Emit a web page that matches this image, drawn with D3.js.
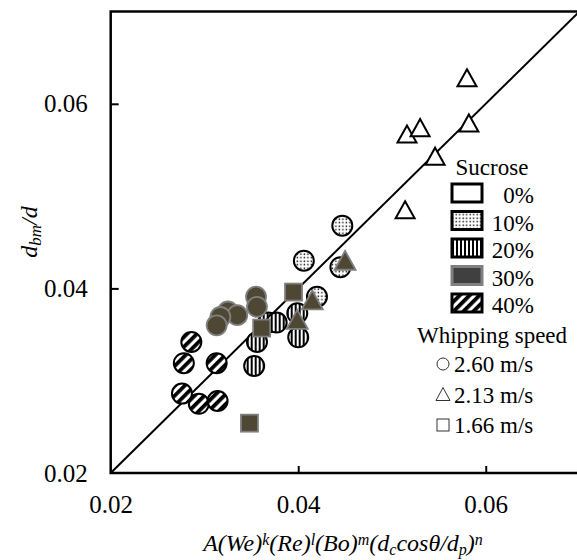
<!DOCTYPE html>
<html>
<head>
<meta charset="utf-8">
<script src="https://cdn.jsdelivr.net/npm/d3@7"></script>
<style>
  body { margin: 0; background: #fff; }
  .axis-line { stroke: #000; stroke-width: 2.5; fill: none; }
</style>
</head>
<body>
<div id="chart"></div>
<script>
/* global d3 */
'use strict';

var FONT = 'Liberation Serif';

// axis ticks
var xTicks = [0.02, 0.04, 0.06];
var yTicks = [0.02, 0.04, 0.06];

// legend entries
var sucroseLevels = ['0%', '10%', '20%', '30%', '40%'];
var speedLabels = ['2.60 m/s', '2.13 m/s', '1.66 m/s'];

// [x, y] pairs, one array per sucrose level / whipping speed
var s0Tri = [[0.0580, 0.0626], [0.0582, 0.0577], [0.0546, 0.0541], [0.0516, 0.0565], [0.0530, 0.0572], [0.0514, 0.0483]];
var s40Circ = [[0.0286, 0.0342], [0.0278, 0.0319], [0.0313, 0.0319], [0.0276, 0.0286], [0.0294, 0.0275], [0.0314, 0.0278]];
var s20Circ = [[0.0368, 0.0363], [0.0377, 0.0363], [0.0399, 0.0373], [0.0356, 0.0342], [0.0400, 0.0347], [0.0353, 0.0316]];
var s10Circ = [[0.0406, 0.0430], [0.0445, 0.0423], [0.0420, 0.0391], [0.0447, 0.0468]];
var s30Circ = [[0.0355, 0.0391], [0.0356, 0.0380], [0.0325, 0.0375], [0.0335, 0.0371], [0.0317, 0.0369], [0.0313, 0.0360]];
var s30Tri = [[0.0415, 0.0385], [0.0399, 0.0364], [0.0450, 0.0428]];
var s30Sq = [[0.0395, 0.0396], [0.0361, 0.0357], [0.0348, 0.0254]];

var series = [
  { level: '0%', shape: 'tri', pts: s0Tri },
  { level: '40%', shape: 'circ', pts: s40Circ },
  { level: '20%', shape: 'circ', pts: s20Circ },
  { level: '10%', shape: 'circ', pts: s10Circ },
  { level: '30%', shape: 'circ', pts: s30Circ },
  { level: '30%', shape: 'tri', pts: s30Tri },
  { level: '30%', shape: 'sq', pts: s30Sq }
];

var W = 577, H = 560;
var margin = { top: 11.5, left: 110.7, right: -2.5, bottom: 87 };
var width = W - margin.left - margin.right;
var height = H - margin.top - margin.bottom;

var x = d3.scaleLinear().domain([0.02, 0.07]).range([0, width]);
var y = d3.scaleLinear().domain([0.02, 0.07]).range([height, 0]);

var svg = d3.select('#chart').append('svg')
    .attr('width', W)
    .attr('height', H);

var defs = svg.append('defs');

// 10%: fine dots
var pDots = defs.append('pattern').attr('id', 'p10')
    .attr('patternUnits', 'userSpaceOnUse').attr('width', 3.5).attr('height', 3.5);
pDots.append('rect').attr('width', 3.5).attr('height', 3.5).attr('fill', '#fff');
pDots.append('rect').attr('x', 0.5).attr('y', 0.5).attr('width', 1.4).attr('height', 1.4).attr('fill', '#000');

// 20%: vertical stripes
var pV = defs.append('pattern').attr('id', 'p20')
    .attr('patternUnits', 'userSpaceOnUse').attr('width', 4).attr('height', 4);
pV.append('rect').attr('width', 4).attr('height', 4).attr('fill', '#fff');
pV.append('rect').attr('width', 2).attr('height', 4).attr('fill', '#000');

// 40%: wide diagonal stripes
var pD = defs.append('pattern').attr('id', 'p40')
    .attr('patternUnits', 'userSpaceOnUse').attr('width', 7).attr('height', 7)
    .attr('patternTransform', 'rotate(45)');
pD.append('rect').attr('width', 7).attr('height', 7).attr('fill', '#fff');
pD.append('rect').attr('width', 3.8).attr('height', 7).attr('fill', '#000');

var style = {
  '0%':  { fill: '#fff', stroke: '#000' },
  '10%': { fill: 'url(#p10)', stroke: '#000' },
  '20%': { fill: 'url(#p20)', stroke: '#000' },
  '30%': { fill: '#4d4733', stroke: '#7f7f7f' },
  '40%': { fill: 'url(#p40)', stroke: '#000' }
};

var g = svg.append('g')
    .attr('transform', 'translate(' + margin.left + ',' + margin.top + ')');

// frame
g.append('rect').attr('class', 'axis-line')
    .attr('width', width).attr('height', height);

// 1:1 line
g.append('line')
    .attr('x1', x(0.02)).attr('y1', y(0.02))
    .attr('x2', x(0.07)).attr('y2', y(0.07))
    .attr('stroke', '#000').attr('stroke-width', 2);

// axes
var xAxis = d3.axisBottom(x).tickValues(xTicks).tickSize(-7).tickPadding(17)
    .tickFormat(d3.format('.2f'));
var yAxis = d3.axisLeft(y).tickValues(yTicks).tickSize(-8).tickPadding(23)
    .tickFormat(d3.format('.2f'));

var gx = g.append('g').attr('transform', 'translate(0,' + height + ')').call(xAxis);
var gy = g.append('g').call(yAxis);
[gx, gy].forEach(function (ax) {
  ax.attr('font-family', null);
  ax.select('.domain').remove();
  ax.selectAll('line').attr('stroke', '#000').attr('stroke-width', 2);
  ax.selectAll('text').attr('font-size', 25).attr('fill', '#000');
});
gx.selectAll('.tick').filter(function (d) { return d === 0.02; }).select('line').remove();
gy.selectAll('.tick').filter(function (d) { return d === 0.02; }).select('line').remove();
gx.selectAll('text').attr('dy', '0.9em');

// markers
var triPath = function (s) {
  var h = s * 0.9;
  return 'M0,' + (-h * 0.62) + 'L' + (s / 2) + ',' + (h * 0.38) + 'L' + (-s / 2) + ',' + (h * 0.38) + 'Z';
};

series.forEach(function (ser) {
  var st = style[ser.level];
  var grp = g.append('g');
  ser.pts.forEach(function (p) {
    var cx = x(p[0]), cy = y(p[1]);
    var m;
    if (ser.shape === 'circ') {
      m = grp.append('circle').attr('cx', cx).attr('cy', cy).attr('r', 10);
    } else if (ser.shape === 'tri') {
      m = grp.append('path').attr('d', triPath(ser.level === '30%' ? 21 : 19))
          .attr('transform', 'translate(' + cx + ',' + cy + ')')
          .attr('stroke-linejoin', 'miter');
    } else {
      m = grp.append('rect').attr('x', cx - 8.5).attr('y', cy - 8.5)
          .attr('width', 17).attr('height', 17);
    }
    m.attr('fill', st.fill).attr('stroke', st.stroke)
        .attr('stroke-width', ser.level === '30%' ? 1.8 : 2);
  });
});

// legend: sucrose
var lg = svg.append('g');
lg.append('text').attr('x', 492).attr('y', 175)
    .attr('text-anchor', 'middle').attr('font-size', 23).text('Sucrose');

sucroseLevels.forEach(function (lv, i) {
  var yy = 184 + i * 27.5;
  var st = style[lv];
  lg.append('rect')
      .attr('x', 452).attr('y', yy).attr('width', 30).attr('height', 18)
      .attr('fill', lv === '30%' ? '#404040' : st.fill)
      .attr('stroke', lv === '30%' ? '#808080' : '#000')
      .attr('stroke-width', 3);
  lg.append('text').attr('x', 534).attr('y', yy + 19)
      .attr('text-anchor', 'end').attr('font-size', 23).text(lv);
});

// legend: whipping speed
lg.append('text').attr('x', 492).attr('y', 343)
    .attr('text-anchor', 'middle').attr('font-size', 23).text('Whipping speed');

speedLabels.forEach(function (lb, i) {
  var by = 372 + i * 30.5;
  var cy = by - 8;
  var sym;
  if (i === 0) {
    sym = lg.append('circle').attr('cx', 443).attr('cy', cy).attr('r', 6);
  } else if (i === 1) {
    sym = lg.append('path').attr('d', 'M443,' + (cy - 7) + 'L450,' + (cy + 6) + 'L436,' + (cy + 6) + 'Z');
  } else {
    sym = lg.append('rect').attr('x', 437).attr('y', cy - 6).attr('width', 12).attr('height', 12);
  }
  sym.attr('fill', 'none').attr('stroke', '#333').attr('stroke-width', 1);
  lg.append('text').attr('x', 454).attr('y', by)
      .attr('font-size', 23).text(lb);
});

// axis titles
var xt = svg.append('text').attr('x', 343).attr('y', 551)
    .attr('text-anchor', 'middle').attr('font-size', 24).attr('font-style', 'italic');
xt.append('tspan').text('A(We)');
xt.append('tspan').attr('baseline-shift', '40%').attr('font-size', 16).text('k');
xt.append('tspan').text('(Re)');
xt.append('tspan').attr('baseline-shift', '40%').attr('font-size', 16).text('l');
xt.append('tspan').text('(Bo)');
xt.append('tspan').attr('baseline-shift', '40%').attr('font-size', 16).text('m');
xt.append('tspan').text('(d');
xt.append('tspan').attr('baseline-shift', '-25%').attr('font-size', 16).text('c');
xt.append('tspan').text('cosθ/d');
xt.append('tspan').attr('baseline-shift', '-25%').attr('font-size', 16).text('p');
xt.append('tspan').text(')');
xt.append('tspan').attr('baseline-shift', '40%').attr('font-size', 16).text('n');

var yt = svg.append('text')
    .attr('transform', 'translate(37,232) rotate(-90)')
    .attr('text-anchor', 'middle').attr('font-size', 24).attr('font-style', 'italic');
yt.append('tspan').text('d');
yt.append('tspan').attr('baseline-shift', '-25%').attr('font-size', 17).text('bm');
yt.append('tspan').text('/d');

// serif face on every label
svg.selectAll('text').style('font-family', FONT);
</script>
</body>
</html>
